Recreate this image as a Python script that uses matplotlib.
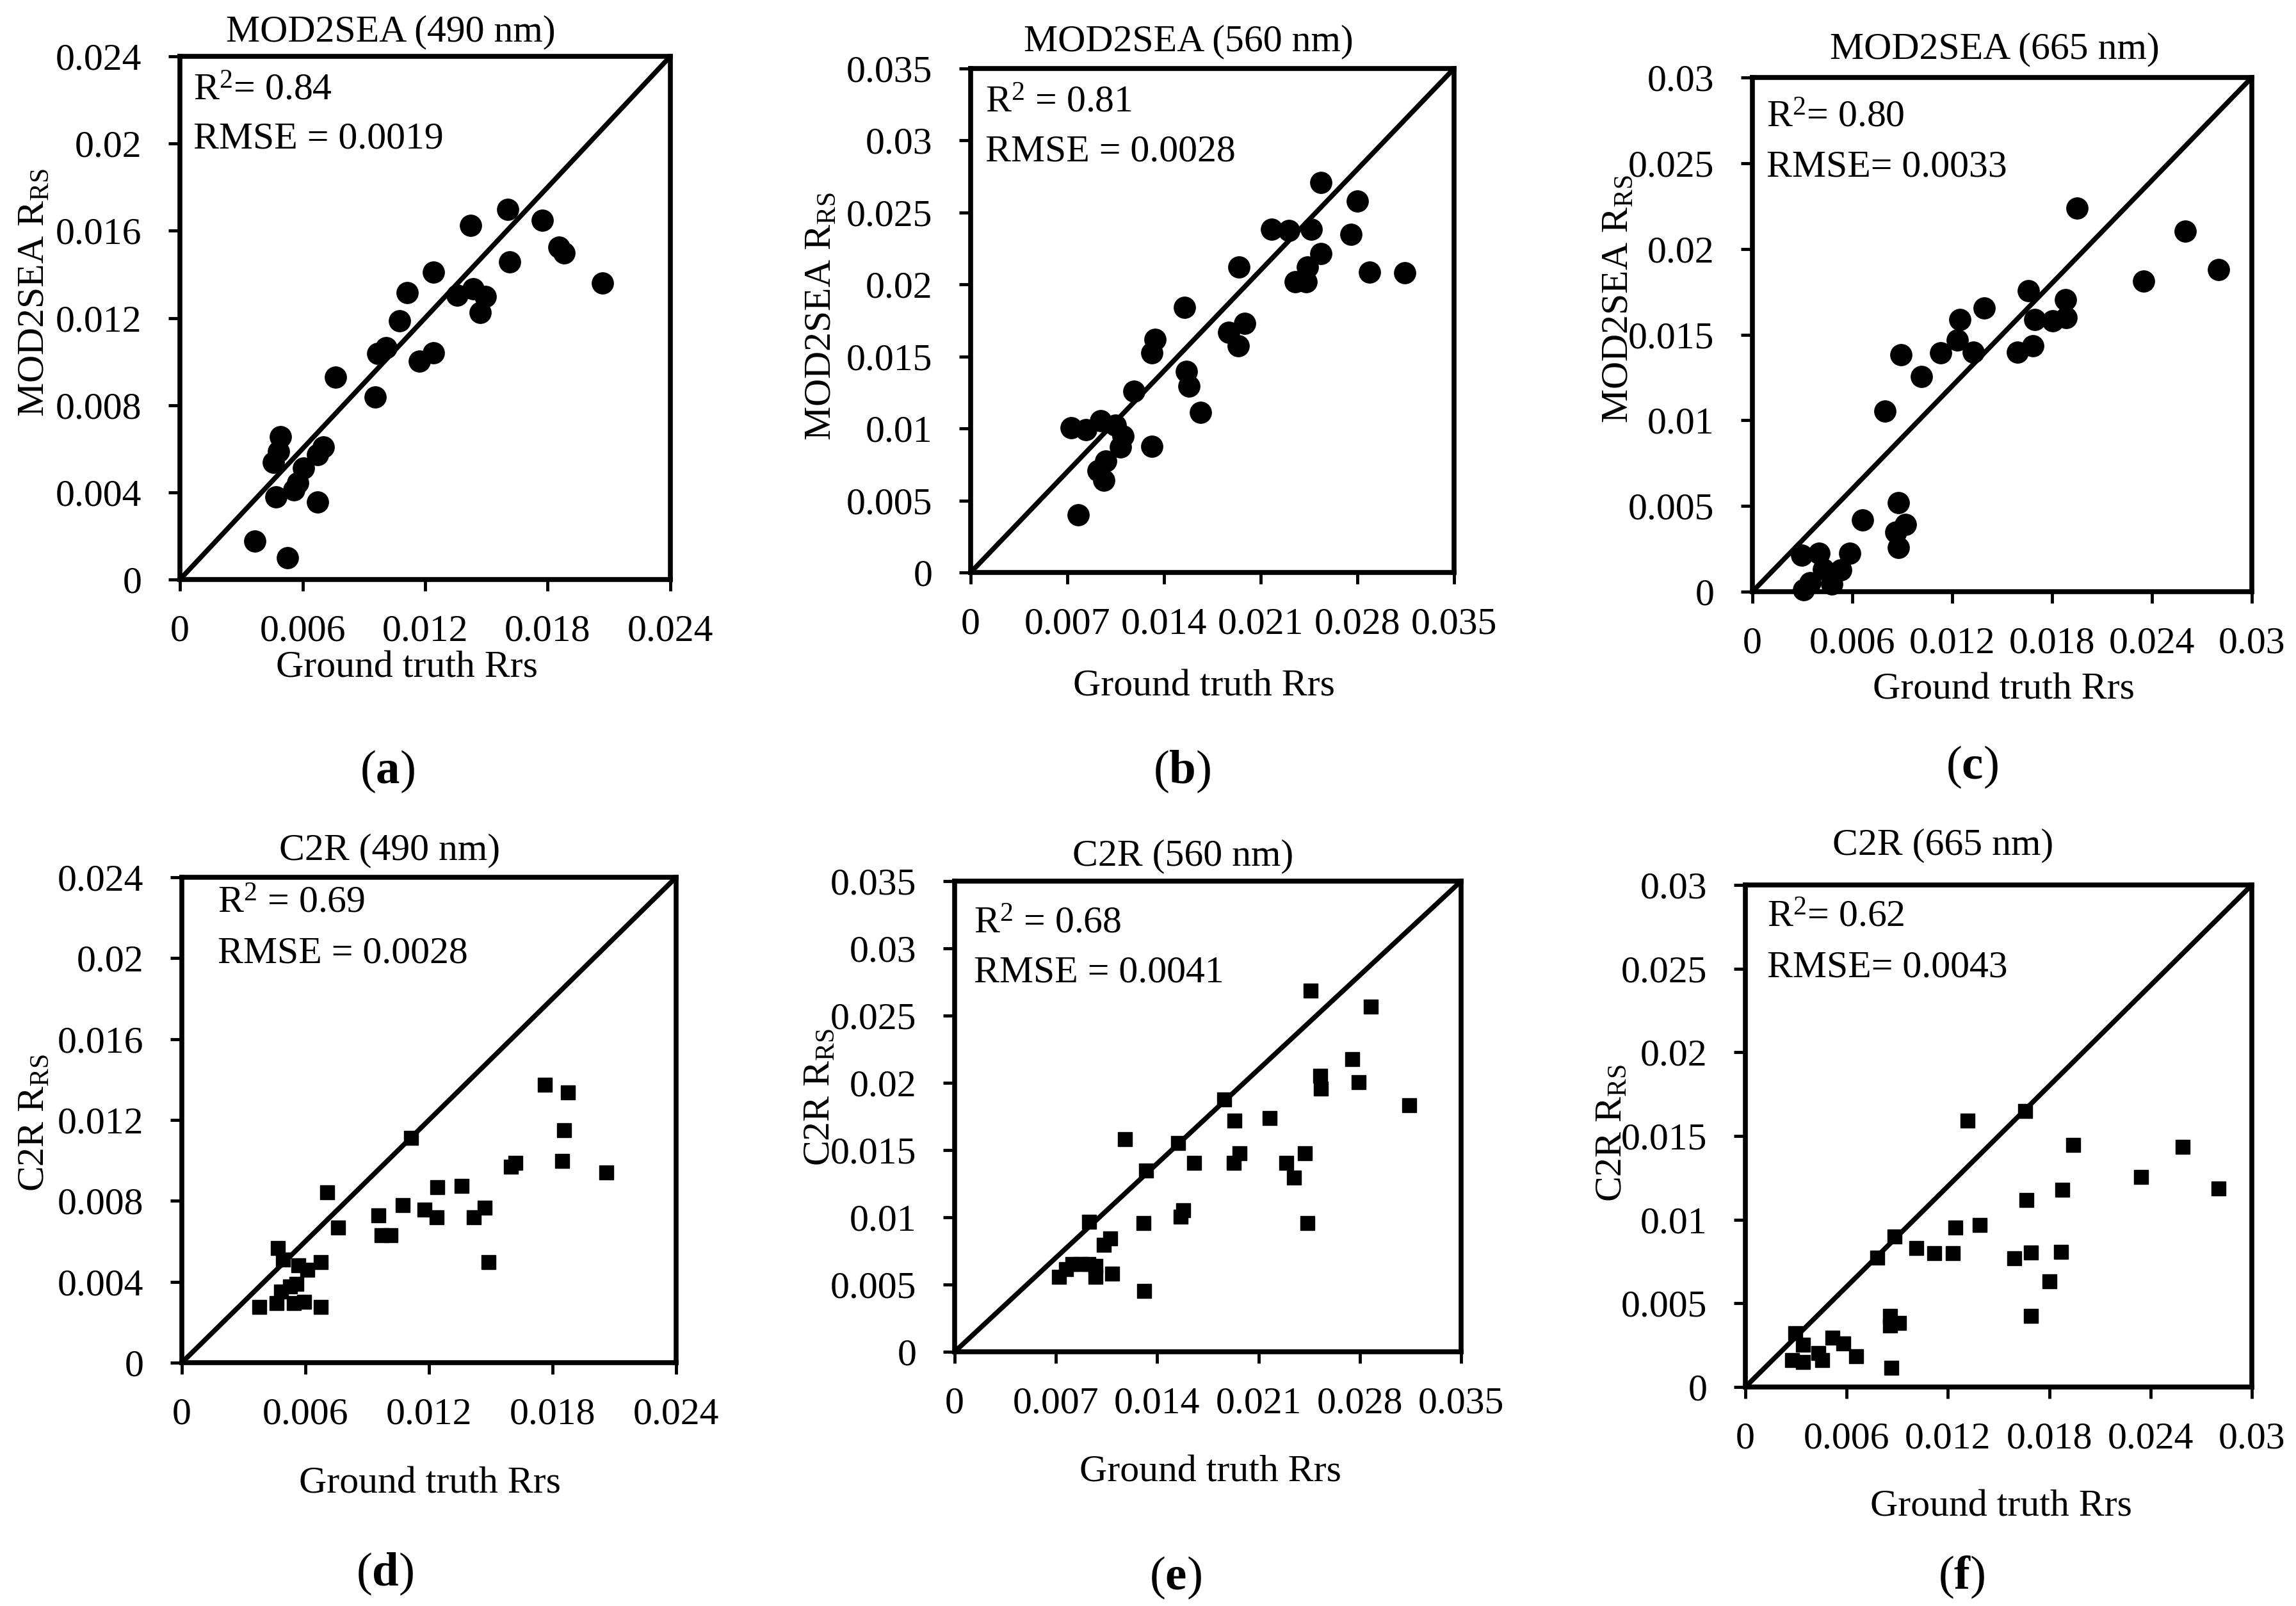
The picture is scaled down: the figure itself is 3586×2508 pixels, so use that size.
import matplotlib
matplotlib.use('Agg')
import matplotlib.pyplot as plt

plt.rcParams['font.family'] = ['Liberation Serif', 'DejaVu Serif']
plt.rcParams['mathtext.fontset'] = 'custom'
plt.rcParams['mathtext.rm'] = 'Liberation Serif'
plt.rcParams['mathtext.it'] = 'Liberation Serif:italic'
plt.rcParams['mathtext.bf'] = 'Liberation Serif:bold'

# ---- data ----
# (a) MOD2SEA 490 nm
mod490_gt = [0.00366, 0.00527, 0.00469, 0.00558, 0.00577, 0.00606, 0.00673, 0.00673,
             0.00702, 0.00457, 0.00481, 0.00493, 0.0076, 0.00955, 0.00967, 0.0101,
             0.01075, 0.01111, 0.01173, 0.0124, 0.0124, 0.01356, 0.01435, 0.01495,
             0.01471, 0.01423, 0.01603, 0.01615, 0.01772, 0.01856, 0.0188, 0.02068]
mod490_est = [0.00175, 0.00101, 0.00378, 0.00411, 0.00445, 0.00512, 0.00355, 0.00573,
              0.00609, 0.00539, 0.00587, 0.00654, 0.00928, 0.00838, 0.01036, 0.01063,
              0.01187, 0.01315, 0.01002, 0.0104, 0.01411, 0.01303, 0.01333, 0.01299,
              0.01225, 0.01625, 0.01697, 0.01456, 0.01647, 0.01524, 0.01497, 0.0136]

# (b) MOD2SEA 560 nm
mod560_gt = [0.00727, 0.00834, 0.00941, 0.01048, 0.01105, 0.01083, 0.00977, 0.00923,
             0.00962, 0.00777, 0.01183, 0.01312, 0.01312, 0.01333, 0.0155, 0.01561,
             0.01582, 0.01664, 0.01868, 0.01939, 0.01985, 0.01942, 0.02181, 0.02306,
             0.02466, 0.02352, 0.02431, 0.02438, 0.02538, 0.02538, 0.02752, 0.02798,
             0.02887, 0.03143]
mod560_est = [0.01004, 0.00991, 0.01055, 0.01021, 0.00947, 0.00872, 0.00776, 0.00708,
              0.0064, 0.00402, 0.0126, 0.00878, 0.01525, 0.01617, 0.01839, 0.01396,
              0.01294, 0.0111, 0.01668, 0.01576, 0.0173, 0.02121, 0.02383, 0.02376,
              0.02383, 0.02019, 0.02019, 0.02121, 0.02213, 0.02707, 0.02349, 0.02581,
              0.02084, 0.0208]

# (c) MOD2SEA 665 nm
mod665_gt = [0.00295, 0.00309, 0.00348, 0.00401, 0.00427, 0.00477, 0.0053, 0.00583,
             0.00663, 0.00796, 0.00875, 0.00863, 0.00875, 0.00919, 0.00893, 0.01017,
             0.01129, 0.01232, 0.01247, 0.01326, 0.01391, 0.01591, 0.01686, 0.01656,
             0.01697, 0.01803, 0.01886, 0.0188, 0.01951, 0.02349, 0.02599, 0.028]
mod665_est = [0.00212, 0.0001, 0.00054, 0.00226, 0.00129, 0.00043, 0.00126, 0.00226,
              0.0042, 0.01055, 0.0052, 0.00349, 0.00257, 0.00392, 0.01384, 0.01255,
              0.01393, 0.0147, 0.01587, 0.01399, 0.01656, 0.01399, 0.01436, 0.01756,
              0.01587, 0.01579, 0.01599, 0.01702, 0.02236, 0.01813, 0.02102, 0.01879]

# (d) C2R 490 nm
c2r490_gt = [0.00376, 0.0046, 0.00467, 0.0049, 0.00483, 0.00524, 0.00555, 0.00543,
             0.00595, 0.00567, 0.0061, 0.00674, 0.00674, 0.00705, 0.00757, 0.00955,
             0.00971, 0.01012, 0.01074, 0.01114, 0.01179, 0.01238, 0.0124, 0.01357,
             0.01419, 0.01471, 0.01488, 0.01598, 0.01619, 0.01764, 0.01848, 0.01857,
             0.01876, 0.0206]
c2r490_est = [0.00276, 0.00294, 0.00567, 0.00511, 0.00352, 0.00378, 0.00388, 0.00294,
              0.00301, 0.0048, 0.0046, 0.00498, 0.00276, 0.00843, 0.00669, 0.00728,
              0.00631, 0.00631, 0.00779, 0.01111, 0.00758, 0.0072, 0.00868, 0.00873,
              0.0072, 0.00766, 0.00498, 0.0097, 0.00988, 0.01374, 0.00996, 0.01149,
              0.01335, 0.0094]

# (e) C2R 560 nm
c2r560_gt = [0.0072, 0.00771, 0.00815, 0.00873, 0.00924, 0.00975, 0.00975, 0.00931,
             0.01033, 0.01077, 0.01087, 0.01179, 0.01305, 0.01322, 0.01308, 0.01543,
             0.0156, 0.0158, 0.01655, 0.01862, 0.01933, 0.0193, 0.01968, 0.02175,
             0.02294, 0.02344, 0.02419, 0.02436, 0.0246, 0.02528, 0.02531, 0.02749,
             0.02793, 0.02878, 0.03143]
c2r560_est = [0.00556, 0.00613, 0.00652, 0.00652, 0.00652, 0.0064, 0.00556, 0.00966,
              0.00797, 0.00843, 0.00583, 0.01583, 0.00958, 0.01349, 0.00452, 0.01553,
              0.01004, 0.01054, 0.01407, 0.01878, 0.01717, 0.01407, 0.01476, 0.01737,
              0.01407, 0.01296, 0.01476, 0.00958, 0.02684, 0.02051, 0.01955, 0.02178,
              0.02005, 0.02568, 0.01833]

# (f) C2R 665 nm
c2r665_gt = [0.00277, 0.00297, 0.00341, 0.00341, 0.00434, 0.00457, 0.00516, 0.0058,
             0.00655, 0.00783, 0.00865, 0.00859, 0.00859, 0.00909, 0.00885, 0.01011,
             0.01118, 0.01229, 0.01244, 0.01317, 0.01389, 0.01593, 0.01657, 0.01666,
             0.0169, 0.0169, 0.01803, 0.0187, 0.01876, 0.01943, 0.02342, 0.02592,
             0.02802]
c2r665_est = [0.0016, 0.00321, 0.00253, 0.00151, 0.00201, 0.0016, 0.00293, 0.00262,
              0.00182, 0.00772, 0.00114, 0.00423, 0.00367, 0.00383, 0.00901, 0.0083,
              0.00799, 0.00799, 0.00954, 0.0159, 0.00969, 0.00769, 0.01651, 0.01117,
              0.00802, 0.00423, 0.00633, 0.00809, 0.01179, 0.01448, 0.01256, 0.01435,
              0.01188]

ticks_024 = [0, 0.006, 0.012, 0.018, 0.024]
ticklabels_024 = ['0', '0.006', '0.012', '0.018', '0.024']
yticks_024 = [0, 0.004, 0.008, 0.012, 0.016, 0.02, 0.024]
yticklabels_024 = ['0', '0.004', '0.008', '0.012', '0.016', '0.02', '0.024']
ticks_035 = [0, 0.007, 0.014, 0.021, 0.028, 0.035]
ticklabels_035 = ['0', '0.007', '0.014', '0.021', '0.028', '0.035']
yticks_035 = [0, 0.005, 0.01, 0.015, 0.02, 0.025, 0.03, 0.035]
yticklabels_035 = ['0', '0.005', '0.01', '0.015', '0.02', '0.025', '0.03', '0.035']
ticks_030 = [0, 0.006, 0.012, 0.018, 0.024, 0.03]
ticklabels_030 = ['0', '0.006', '0.012', '0.018', '0.024', '0.03']
yticks_030 = [0, 0.005, 0.01, 0.015, 0.02, 0.025, 0.03]
yticklabels_030 = ['0', '0.005', '0.01', '0.015', '0.02', '0.025', '0.03']

titles = ['MOD2SEA (490 nm)', 'MOD2SEA (560 nm)', 'MOD2SEA (665 nm)',
          'C2R (490 nm)', 'C2R (560 nm)', 'C2R (665 nm)']
r2_texts = ['R$^2$= 0.84', 'R$^2$ = 0.81', 'R$^2$= 0.80',
            'R$^2$ = 0.69', 'R$^2$ = 0.68', 'R$^2$= 0.62']
rmse_texts = ['RMSE = 0.0019', 'RMSE = 0.0028', 'RMSE= 0.0033',
              'RMSE = 0.0028', 'RMSE = 0.0041', 'RMSE= 0.0043']
ylabels = ['MOD2SEA R$_{\\mathrm{RS}}$'] * 3 + ['C2R R$_{\\mathrm{RS}}$'] * 3
letters = ['a', 'b', 'c', 'd', 'e', 'f']

W, H = 3586, 2508
FS = 43

# layout in pixels of the reference: left, top, right, bottom of each plot box
boxes = [(281, 88, 1047, 905), (1516, 107, 2271, 894), (2737, 121, 3517, 924),
         (284, 1370, 1056, 2128), (1491, 1376, 2282, 2111), (2726, 1382, 3517, 2166)]
title_pos = [(610, 50), (1856, 65), (3115, 77), (609, 1328), (1848, 1337), (3035, 1320)]
xlabel_pos = [(635, 1043), (1880, 1073), (3129, 1078), (671, 2317), (1890, 2300), (3125, 2354)]
ylabel_pos = [(54, 457), (1283, 494), (2528, 467), (54, 1753), (1281, 1713), (2518, 1769)]
letter_pos = [(605, 1205), (1846, 1205), (3080, 1198), (601, 2458), (1836, 2464), (3064, 2463)]
stat_pos = [(302, 142, 218), (1539, 161, 237), (2759, 184, 262),
            (340, 1411, 1489), (1521, 1443, 1520), (2760, 1433, 1512)]


def fx(px):
    return px / W


def fy(py):
    return 1 - py / H


def doPanel(fig, i, gt, est, lim, xt, xtl, yt, ytl, marker, ms):
    l, t, r, b = boxes[i]
    ax = fig.add_axes([fx(l), fy(b), fx(r) - fx(l), fy(t) - fy(b)])
    ax.plot(gt, est, linestyle='none', marker=marker, ms=ms, color='black', clip_on=False, zorder=3)
    ax.plot([0, lim], [0, lim], color='black', lw=5.5, solid_capstyle='round', clip_on=False)
    ax.set_xlim(0, lim)
    ax.set_ylim(0, lim)
    ax.set_xticks(xt)
    ax.set_xticklabels(xtl)
    ax.set_yticks(yt)
    ax.set_yticklabels(ytl)
    ax.tick_params(direction='out', length=13, width=3.5, labelsize=FS, color='black')
    ax.tick_params(axis='x', pad=26)
    ax.tick_params(axis='y', pad=30)
    for s in ax.spines.values():
        s.set_linewidth(5.5)
    fig.text(fx(title_pos[i][0]), fy(title_pos[i][1]), titles[i], fontsize=FS, ha='center', va='center')
    fig.text(fx(xlabel_pos[i][0]), fy(xlabel_pos[i][1]), 'Ground truth Rrs', fontsize=FS, ha='center', va='center')
    fig.text(fx(ylabel_pos[i][0]), fy(ylabel_pos[i][1]), ylabels[i], fontsize=FS, ha='center', va='center',
             rotation=90)
    sx, sy1, sy2 = stat_pos[i]
    fig.text(fx(sx), fy(sy1), r2_texts[i], fontsize=FS, ha='left', va='center')
    fig.text(fx(sx), fy(sy2), rmse_texts[i], fontsize=FS, ha='left', va='center')
    fig.text(fx(letter_pos[i][0]), fy(letter_pos[i][1]), '($\\mathbf{%s}$)' % letters[i], fontsize=54,
             ha='center', va='center')
    return ax


def main():
    fig = plt.figure(figsize=(W / 100, H / 100), dpi=100)
    doPanel(fig, 0, mod490_gt, mod490_est, 0.024, ticks_024, ticklabels_024, yticks_024, yticklabels_024, 'o', 24)
    doPanel(fig, 1, mod560_gt, mod560_est, 0.035, ticks_035, ticklabels_035, yticks_035, yticklabels_035, 'o', 24)
    doPanel(fig, 2, mod665_gt, mod665_est, 0.03, ticks_030, ticklabels_030, yticks_030, yticklabels_030, 'o', 24)
    doPanel(fig, 3, c2r490_gt, c2r490_est, 0.024, ticks_024, ticklabels_024, yticks_024, yticklabels_024, 's', 16)
    doPanel(fig, 4, c2r560_gt, c2r560_est, 0.035, ticks_035, ticklabels_035, yticks_035, yticklabels_035, 's', 16)
    doPanel(fig, 5, c2r665_gt, c2r665_est, 0.03, ticks_030, ticklabels_030, yticks_030, yticklabels_030, 's', 16)
    fig.savefig('out.png', dpi=100, facecolor='white')


if __name__ == '__main__':
    main()
